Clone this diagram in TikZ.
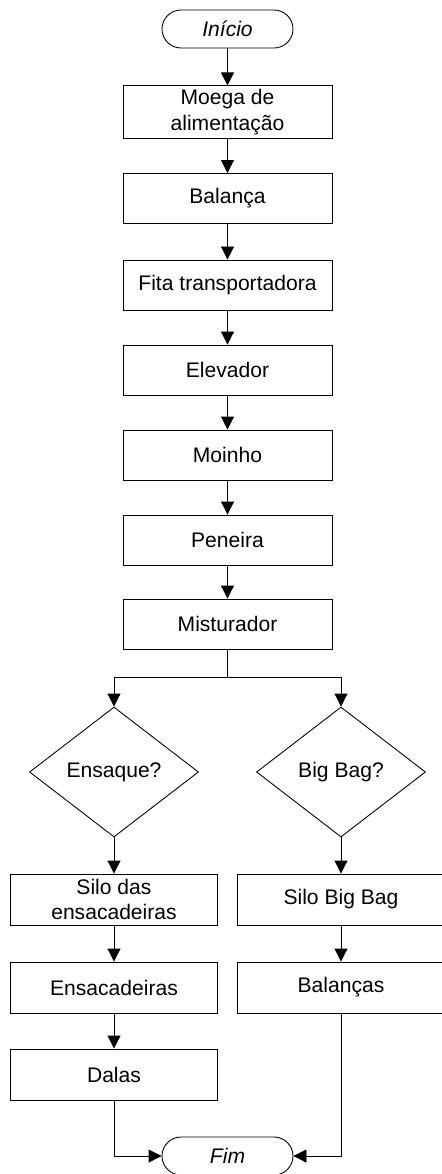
\documentclass[tikz,border=0pt]{standalone}
\usepackage{fontspec}
\setmainfont{Liberation Sans}
\usepackage{tikz}
\usetikzlibrary{arrows.meta,shapes.geometric}
\newcommand{\flowfont}{\fontsize{12}{14.5}\selectfont}
\tikzset{
  terminal/.style={rectangle,rounded corners=0.38cm,draw=black,line width=0.5pt,
    font=\flowfont\itshape,minimum width=2.62cm,minimum height=0.76cm,inner sep=2pt},
  process/.style={rectangle,draw=black,line width=0.5pt,align=center,font=\flowfont,
    minimum width=4.18cm,minimum height=1.0cm,inner sep=2pt},
  branchbox/.style={process,minimum width=4.14cm,minimum height=1.02cm},
  decision/.style={diamond,draw=black,line width=0.5pt,inner sep=0pt,font=\flowfont,
    minimum width=3.38cm,minimum height=2.6cm},
  arrow/.style={-{Triangle[length=0.26cm,width=0.26cm]},line width=0.5pt,color=black}
}
\begin{document}
\begin{tikzpicture}[x=1cm,y=1cm]
  \useasboundingbox (0,0) rectangle (8.82,-23.48);
  % main line
  \node[terminal] (inicio) at (4.55,-0.58) {Início};
  \node[process] (moega) at (4.55,-2.24) {Moega de\\alimentação};
  \node[process] (balanca) at (4.55,-3.97) {Balança};
  \node[process] (fita) at (4.55,-5.70) {Fita transportadora};
  \node[process] (elev) at (4.55,-7.40) {Elevador};
  \node[process] (moinho) at (4.55,-9.10) {Moinho};
  \node[process] (peneira) at (4.55,-10.80) {Peneira};
  \node[process] (mist) at (4.55,-12.48) {Misturador};
  \coordinate (split) at (4.55,-13.54);
  % two branches
  \node[decision] (ensq) at (2.28,-15.44) {Ensaque?};
  \node[decision] (bigq) at (6.82,-15.44) {Big Bag?};
  \node[branchbox] (silo) at (2.28,-17.99) {Silo das\\ensacadeiras};
  \node[branchbox] (ensac) at (2.28,-19.75) {Ensacadeiras};
  \node[branchbox] (dalas) at (2.28,-21.49) {Dalas};
  \node[branchbox] (silobb) at (6.82,-17.99) {Silo Big Bag};
  \node[branchbox] (balancas) at (6.82,-19.75) {Balanças};
  \node[terminal] (fim) at (4.55,-23.12) {Fim};
  \draw[arrow] (inicio) -- (moega);
  \draw[arrow] (moega) -- (balanca);
  \draw[arrow] (balanca) -- (fita);
  \draw[arrow] (fita) -- (elev);
  \draw[arrow] (elev) -- (moinho);
  \draw[arrow] (moinho) -- (peneira);
  \draw[arrow] (peneira) -- (mist);
  \draw[line width=0.5pt] (mist.south) -- (split);
  \draw[arrow] (split) -| (ensq.north);
  \draw[arrow] (split) -| (bigq.north);
  \draw[arrow] (ensq) -- (silo);
  \draw[arrow] (silo) -- (ensac);
  \draw[arrow] (ensac) -- (dalas);
  \draw[arrow] (bigq) -- (silobb);
  \draw[arrow] (silobb) -- (balancas);
  \draw[arrow] (dalas.south) |- (fim.west);
  \draw[arrow] (balancas.south) |- (fim.east);
\end{tikzpicture}
\end{document}
